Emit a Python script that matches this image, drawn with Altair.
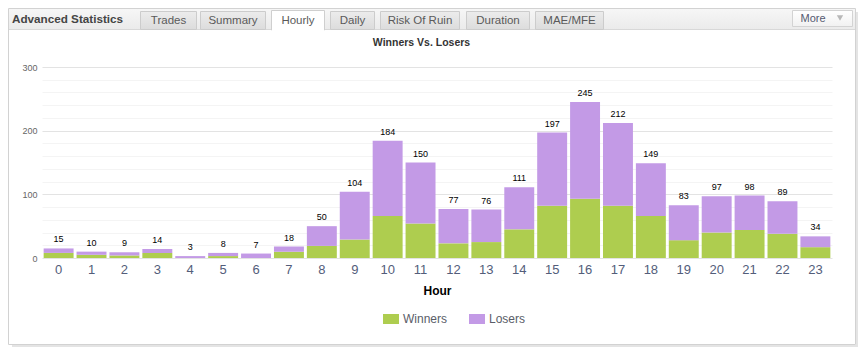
import altair as alt
import pandas as pd

# ---------------- data ----------------
hours = list(range(24))
winners = [8, 5, 4, 8, 0, 3, 0, 10, 19, 29, 66, 54, 23, 25, 45, 82, 93, 82, 66, 28, 40, 44, 38, 17]
losers = [7, 5, 5, 6, 3, 5, 7, 8, 31, 75, 118, 96, 54, 51, 66, 115, 152, 130, 83, 55, 57, 54, 51, 17]
series = ["Winners", "Losers"]
series_colors = ["#aecd4f", "#c39ae6"]
y_domain = [0, 300]
y_grid_values = list(range(0, 301, 20))

panel_title = "Advanced Statistics"
tabs = ["Trades", "Summary", "Hourly", "Daily", "Risk Of Ruin", "Duration", "MAE/MFE"]
active_tab = "Hourly"
more_label = "More"
chart_title = "Winners Vs. Losers"
x_title = "Hour"

# ---------------- layout (pixels, page coordinates) ----------------
OX, OY = 42, 67          # page position of the plot origin
W, H = 790, 191          # plot size
TOTAL_W, TOTAL_H = 850, 339
PAD = {"left": OX - 8, "top": OY - 8, "right": TOTAL_W - (OX - 8) - W,
       "bottom": TOTAL_H - (OY - 8) - H}
tab_spans = [(140, 197), (200, 266), (271, 325), (330, 375), (380, 460), (466, 530), (535, 604)]
FONT = "Liberation Sans"


def X(a):
    return a - OX


def Y(a):
    return a - OY


one = pd.DataFrame({"k": [0]})


def rect(x0, y0, x1, y1, **kw):
    return alt.Chart(one).mark_rect(**kw).encode(
        x=alt.value(X(x0)), x2=alt.value(X(x1)), y=alt.value(Y(y0)), y2=alt.value(Y(y1)))


def text(x, y, s, **kw):
    return alt.Chart(one).mark_text(text=s, font=FONT, **kw).encode(
        x=alt.value(X(x)), y=alt.value(Y(y)))


def grad(c0, c1):
    return alt.LinearGradient(gradient="linear", x1=0, y1=0, x2=0, y2=1,
                              stops=[alt.GradientStop(color=c0, offset=0),
                                     alt.GradientStop(color=c1, offset=1)])


deco = []
# panel shadow + border
deco.append(rect(856, 12, 858, 347, color="#e4e4e4"))
deco.append(rect(12, 345, 858, 347, color="#e4e4e4"))
deco.append(rect(8.5, 8.5, 855.5, 344.5, fillOpacity=0, stroke="#d2d2d2", strokeWidth=1))
# header band
deco.append(rect(9, 9, 855, 29.5, fill=grad("#f6f6f6", "#ebebeb")))
deco.append(rect(9, 29, 855, 30, color="#d8d8d8"))
deco.append(text(12, 19, panel_title, align="left", baseline="middle", fontSize=11.7,
                 fontWeight="bold", color="#454545"))
for name, (a, b) in zip(tabs, tab_spans):
    if name == active_tab:
        deco.append(rect(a + 0.5, 10.5, b - 0.5, 30, fill="#ffffff", stroke="#cfcfcf", strokeWidth=1))
        deco.append(rect(a + 1, 29, b - 1, 31, fill="#ffffff"))
    else:
        deco.append(rect(a + 0.5, 11.5, b - 0.5, 29.5, fill=grad("#ececec", "#dcdcdc"),
                         stroke="#cccccc", strokeWidth=1))
    deco.append(text((a + b) / 2, 20.5, name, align="center", baseline="middle",
                     fontSize=11.5, color="#5a5a5a"))
# "More" button
deco.append(rect(792.5, 10.5, 852.5, 26.5, fill=grad("#ffffff", "#f1f1f1"), stroke="#d3d3d3", strokeWidth=1))
deco.append(text(813, 18.5, more_label, align="center", baseline="middle", fontSize=11, color="#555a70"))
deco.append(alt.Chart(one).mark_point(shape="triangle-down", filled=True, size=40, color="#b8b8b8",
                                      opacity=1).encode(x=alt.value(X(840)), y=alt.value(Y(18))))
# chart title
deco.append(text(421.5, 43, chart_title, align="center", baseline="middle", fontSize=10.5,
                 fontWeight="bold", color="#333333"))

# ---------------- chart ----------------
df = pd.DataFrame({
    "hour": hours * 2,
    "series": ["Winners"] * 24 + ["Losers"] * 24,
    "value": winners + losers,
    "order": [0] * 24 + [1] * 24,
})
tot = pd.DataFrame({"hour": hours, "total": [w + l for w, l in zip(winners, losers)]})

x_scale = alt.Scale(paddingInner=0.09, paddingOuter=0.05)
x_axis = alt.Axis(labelAngle=0, domain=False, ticks=False, labelFont=FONT, labelFontSize=13,
                  labelColor="#535d7a", labelPadding=5, title=x_title, titleFont=FONT,
                  titleFontSize=12, titleFontWeight="bold", titleColor="#000000", titlePadding=9)
y_scale = alt.Scale(domain=y_domain, nice=False)
y_axis = alt.Axis(values=y_grid_values, labelExpr="datum.value % 100 === 0 ? datum.label : ''",
                  domain=False, ticks=False, title=None, labelFont=FONT, labelFontSize=9,
                  labelColor="#666666", labelPadding=5,
                  gridColor={"condition": {"test": "datum.value % 100 === 0", "value": "#e3e3e3"},
                             "value": "#f4f4f4"})

bars = alt.Chart(df).mark_bar().encode(
    x=alt.X("hour:O", scale=x_scale, axis=x_axis),
    y=alt.Y("value:Q", stack="zero", scale=y_scale, axis=y_axis),
    color=alt.Color("series:N", scale=alt.Scale(domain=series, range=series_colors),
                    legend=alt.Legend(orient="none", legendX=X(383), legendY=Y(311),
                                      direction="horizontal", title=None, padding=0,
                                      symbolType="M-1,-0.625L1,-0.625L1,0.625L-1,0.625Z",
                                      symbolSize=256, symbolStrokeWidth=0, labelFont=FONT,
                                      labelFontSize=12, labelColor="#5a5d68", labelOffset=4,
                                      columnPadding=21)),
    order=alt.Order("order:Q"),
)

labels = alt.Chart(tot).mark_text(baseline="bottom", dy=-4, font=FONT, fontSize=9, color="#000000").encode(
    x=alt.X("hour:O", scale=x_scale, axis=x_axis),
    y=alt.Y("total:Q", scale=y_scale, axis=y_axis),
    text="total:Q",
)

chart = alt.layer(*deco, bars, labels).properties(
    width=W, height=H, autosize="none", padding=PAD, background="#ffffff"
).configure_view(stroke=None)

chart.save("out.html", embed_options={"renderer": "svg", "actions": False})
